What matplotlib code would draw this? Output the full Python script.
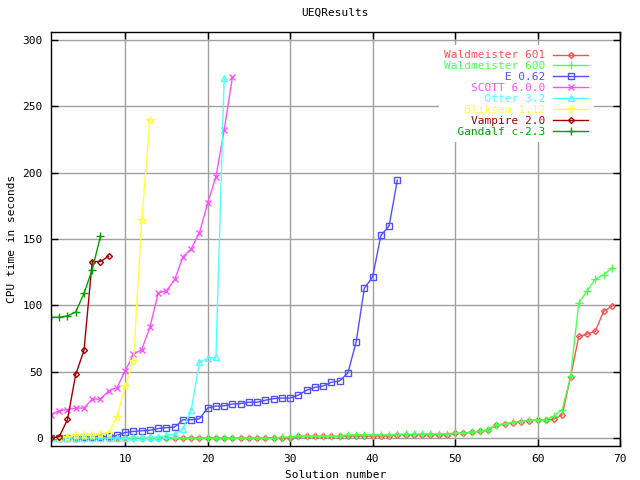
import matplotlib
matplotlib.use("Agg")
import matplotlib.pyplot as plt

# CPU time (seconds) per solution number
waldmeister601 = [0, 0, 0, 0, 0, 0, 0, 0, 0, 0,
                  0, 0, 0, 0, 0, 0, 0, 0, 0, 0,
                  0, 0, 0, 0, 0, 0, 0, 0, 0.3, 0,
                  1.2, 1.2, 1.2, 1.2, 1.2, 1.2, 1.5, 1.5, 1.5, 1.5,
                  1.5, 1.5, 2.5, 2.5, 2.5, 2.5, 2.5, 2.5, 2.5, 3.5,
                  3.5, 4.3, 5.0, 6.0, 9.5, 10.5, 11.5, 12.3, 13.0, 13.5,
                  13.5, 14.3, 17.5, 46.0, 76.6, 78.3, 80.4, 95.4, 99.2]
waldmeister600 = [0, 0, 0, 0, 0, 0, 0, 0, 0, 0,
                  0, 0, 0, 0, 0, 0, 0, 0, 0, 0,
                  0, 0, 0, 0, 0, 0, 0, 0, 0.5, 0.8,
                  1.5, 1.5, 1.5, 1.5, 1.5, 1.5, 2.5, 2.5, 2.5, 2.5,
                  2.5, 2.5, 2.8, 2.8, 2.8, 3.2, 3.2, 3.2, 3.2, 3.8,
                  3.8, 4.5, 5.3, 6.3, 10.0, 10.8, 11.8, 12.5, 13.3, 13.8,
                  13.8, 16.5, 21.5, 46.4, 101.7, 110.8, 119.8, 123.0, 128.0]
e062 = [0, 0, 0, 0, 0.5, 0.8, 1.0, 1.2, 2.0, 4.2,
        5.0, 5.5, 5.8, 7.2, 7.8, 8.3, 13.8, 13.8, 14.5, 22.6,
        24.1, 24.3, 25.6, 26.0, 27.0, 27.0, 28.5, 29.7, 30.1, 30.1,
        32.4, 36.0, 38.2, 39.2, 42.0, 43.0, 49.0, 72.3, 113.0, 121.3,
        152.7, 159.8, 194.4]
scott = [17.5, 20.6, 21.4, 22.6, 22.6, 29.4, 29.4, 35.5, 38.0, 50.6,
         63.0, 66.7, 83.5, 109.4, 111.0, 119.5, 136.6, 142.6, 154.7, 177.0,
         197.0, 232.0, 272.0]
otter = [0, 0, 0, 0, 0, 0, 0, 0, 0, 0,
         0.5, 0.5, 0.5, 1.0, 2.0, 3.0, 7.0, 21.0, 57.0, 60.0,
         61.0, 271.0]
bliksem = [0, 0, 1, 2, 2, 2, 3, 4, 16, 39, 58, 164, 240]
vampire = [0, 1, 14, 48, 66, 133, 133, 137]
gandalf = [91, 91, 92, 95, 109, 127, 152]

series = [
    ("Waldmeister 601", waldmeister601, "#ff5050", "D", 3),
    ("Waldmeister 600", waldmeister600, "#50ff50", "+", 6),
    ("E 0.62", e062, "#5050ff", "s", 5),
    ("SCOTT 6.0.0", scott, "#ff50ff", "x", 5),
    ("Otter 3.2", otter, "#50ffff", "^", 4),
    ("Bliksem 1.12", bliksem, "#ffff40", "*", 6),
    ("Vampire 2.0", vampire, "#a00000", "D", 3),
    ("Gandalf c-2.3", gandalf, "#00a000", "+", 6),
]

plt.rcParams['font.family'] = ['DejaVu Sans Mono']
plt.rcParams['font.size'] = 8

fig = plt.figure(figsize=(6.4, 4.8), dpi=100)
ax = fig.add_axes([51 / 640, 1 - 446 / 480, 569 / 640, 414 / 480])

# monospace font: pad labels on the left so they line up on the right
width = max(len(s[0]) for s in series)
for name, vals, col, mk, ms in series:
    xs = list(range(1, len(vals) + 1))
    ax.plot(xs, vals, color=col, lw=1, marker=mk, ms=ms, mew=1,
            fillstyle='none', label=name.rjust(width))

ax.set_xlim(1, 70)
ax.set_ylim(-6, 306)
ax.set_xticks([10, 20, 30, 40, 50, 60, 70])
ax.set_yticks([0, 50, 100, 150, 200, 250, 300])
ax.grid(True, color="#a0a0a0", lw=1)
ax.set_axisbelow(True)
ax.tick_params(direction='in', top=True, right=True, length=5, width=1, pad=6)
for sp in ax.spines.values():
    sp.set_linewidth(1)

ax.set_title("UEQResults", fontsize=8, pad=12)
ax.set_xlabel("Solution number", labelpad=4)
ax.set_ylabel("CPU time in seconds")

# gnuplot key: no border, but it blanks the grid behind it
leg = ax.legend(loc='upper right', bbox_to_anchor=(0.954, 0.969), frameon=True,
                markerfirst=False, handlelength=3.15, labelspacing=0.08,
                handletextpad=0.7, borderpad=0.5, borderaxespad=0,
                fancybox=False, framealpha=1, facecolor='white', edgecolor='none')
for t, s in zip(leg.get_texts(), series):
    t.set_color(s[2])

fig.savefig("out.png", dpi=100)
